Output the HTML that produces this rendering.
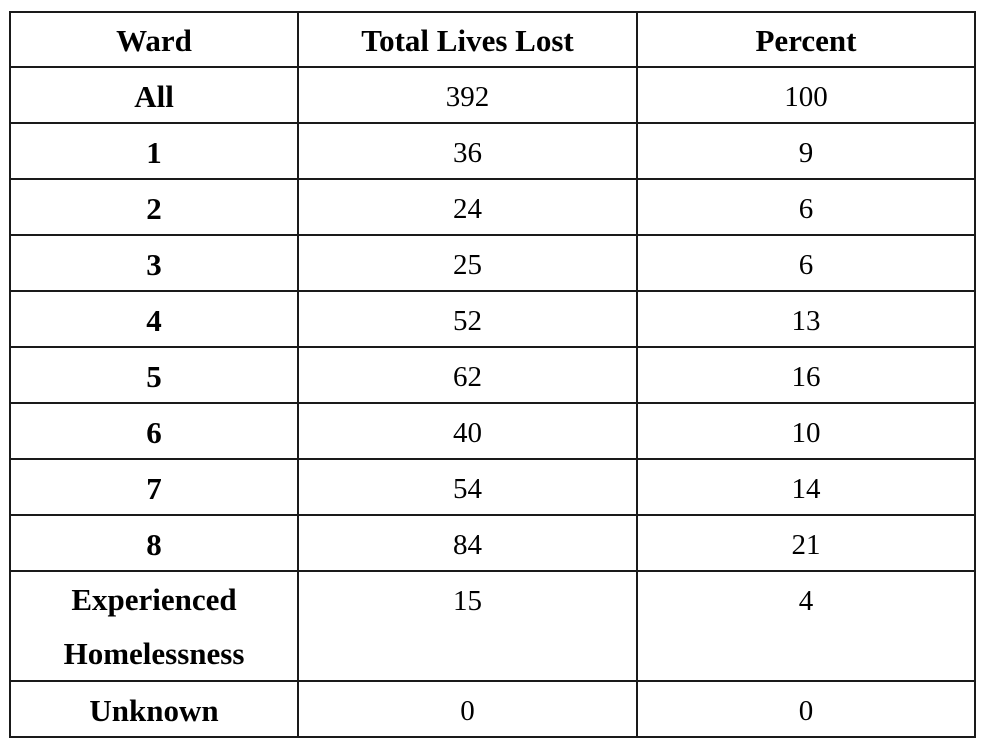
<!DOCTYPE html>
<html><head><style>
body{margin:0;width:996px;height:752px;background:#fff;position:relative;font-family:"Liberation Serif",serif;color:#000}
.h{position:absolute;background:#1a1a1a}
.t{position:absolute;text-align:center;font-size:29px;line-height:56px;height:56px}
.b{font-weight:bold;font-size:31px}
</style></head><body>
<div class="h" style="left:9px;top:11px;width:967px;height:2px"></div>
<div class="h" style="left:9px;top:66px;width:967px;height:2px"></div>
<div class="h" style="left:9px;top:122px;width:967px;height:2px"></div>
<div class="h" style="left:9px;top:178px;width:967px;height:2px"></div>
<div class="h" style="left:9px;top:234px;width:967px;height:2px"></div>
<div class="h" style="left:9px;top:290px;width:967px;height:2px"></div>
<div class="h" style="left:9px;top:346px;width:967px;height:2px"></div>
<div class="h" style="left:9px;top:402px;width:967px;height:2px"></div>
<div class="h" style="left:9px;top:458px;width:967px;height:2px"></div>
<div class="h" style="left:9px;top:514px;width:967px;height:2px"></div>
<div class="h" style="left:9px;top:570px;width:967px;height:2px"></div>
<div class="h" style="left:9px;top:680px;width:967px;height:2px"></div>
<div class="h" style="left:9px;top:736px;width:967px;height:2px"></div>
<div class="h" style="left:9px;top:11px;width:2px;height:727px"></div>
<div class="h" style="left:297px;top:11px;width:2px;height:727px"></div>
<div class="h" style="left:636px;top:11px;width:2px;height:727px"></div>
<div class="h" style="left:974px;top:11px;width:2px;height:727px"></div>

<div class="t b" style="left:11px;width:286px;top:13px">Ward</div>
<div class="t b" style="left:299px;width:337px;top:13px">Total Lives Lost</div>
<div class="t b" style="left:638px;width:336px;top:13px">Percent</div>

<div class="t b" style="left:11px;width:286px;top:69px">All</div>
<div class="t" style="left:299px;width:337px;top:69px">392</div>
<div class="t" style="left:638px;width:336px;top:69px">100</div>

<div class="t b" style="left:11px;width:286px;top:125px">1</div>
<div class="t" style="left:299px;width:337px;top:125px">36</div>
<div class="t" style="left:638px;width:336px;top:125px">9</div>

<div class="t b" style="left:11px;width:286px;top:181px">2</div>
<div class="t" style="left:299px;width:337px;top:181px">24</div>
<div class="t" style="left:638px;width:336px;top:181px">6</div>

<div class="t b" style="left:11px;width:286px;top:237px">3</div>
<div class="t" style="left:299px;width:337px;top:237px">25</div>
<div class="t" style="left:638px;width:336px;top:237px">6</div>

<div class="t b" style="left:11px;width:286px;top:293px">4</div>
<div class="t" style="left:299px;width:337px;top:293px">52</div>
<div class="t" style="left:638px;width:336px;top:293px">13</div>

<div class="t b" style="left:11px;width:286px;top:349px">5</div>
<div class="t" style="left:299px;width:337px;top:349px">62</div>
<div class="t" style="left:638px;width:336px;top:349px">16</div>

<div class="t b" style="left:11px;width:286px;top:405px">6</div>
<div class="t" style="left:299px;width:337px;top:405px">40</div>
<div class="t" style="left:638px;width:336px;top:405px">10</div>

<div class="t b" style="left:11px;width:286px;top:461px">7</div>
<div class="t" style="left:299px;width:337px;top:461px">54</div>
<div class="t" style="left:638px;width:336px;top:461px">14</div>

<div class="t b" style="left:11px;width:286px;top:517px">8</div>
<div class="t" style="left:299px;width:337px;top:517px">84</div>
<div class="t" style="left:638px;width:336px;top:517px">21</div>

<div class="t b" style="left:11px;width:286px;top:573px;height:108px;line-height:54px">Experienced<br>Homelessness</div>
<div class="t" style="left:299px;width:337px;top:573px">15</div>
<div class="t" style="left:638px;width:336px;top:573px">4</div>

<div class="t b" style="left:11px;width:286px;top:683px">Unknown</div>
<div class="t" style="left:299px;width:337px;top:683px">0</div>
<div class="t" style="left:638px;width:336px;top:683px">0</div>
</body></html>
